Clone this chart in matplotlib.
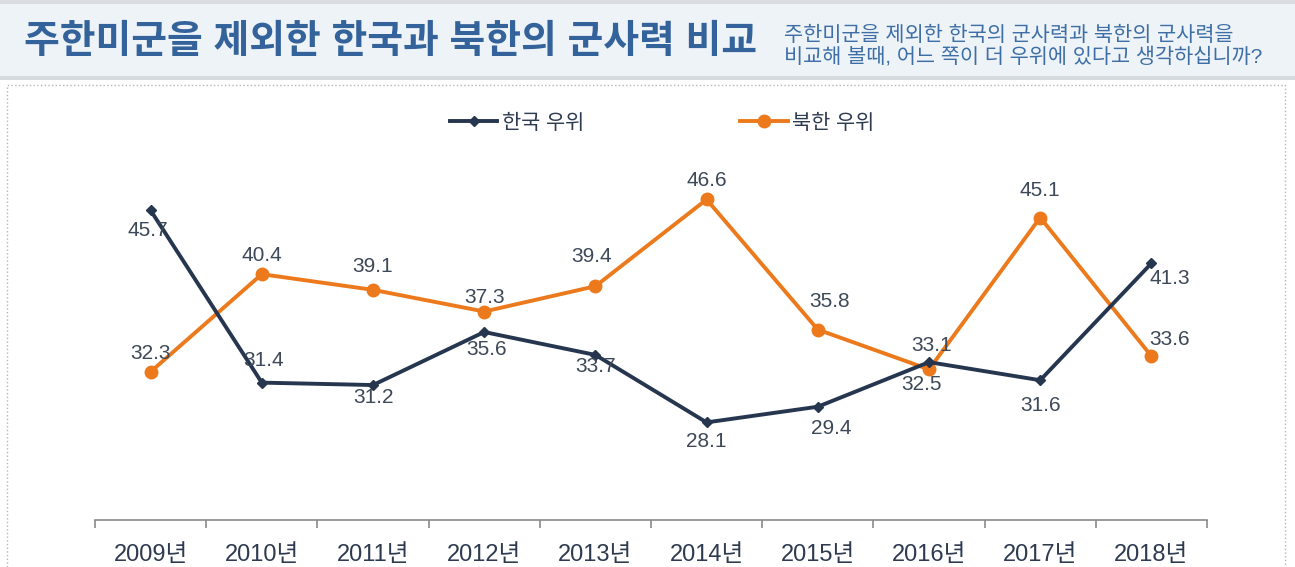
import numpy as np
import matplotlib.pyplot as plt
from matplotlib.patches import Rectangle

plt.rcParams['font.family'] = ['Liberation Sans', 'Noto Sans CJK KR', 'DejaVu Sans']

# data
years = ['2009년', '2010년', '2011년', '2012년', '2013년',
         '2014년', '2015년', '2016년', '2017년', '2018년']
korea = [45.7, 31.4, 31.2, 35.6, 33.7, 28.1, 29.4, 33.1, 31.6, 41.3]
north = [32.3, 40.4, 39.1, 37.3, 39.4, 46.6, 35.8, 32.5, 45.1, 33.6]
series_names = ['한국 우위', '북한 우위']

title = '주한미군을 제외한 한국과 북한의 군사력 비교'
subtitle = ['주한미군을 제외한 한국의 군사력과 북한의 군사력을',
            '비교해 볼때, 어느 쪽이 더 우위에 있다고 생각하십니까?']

# label offsets in pixels (dx, dy), dy positive = up
korea_off = [(-3, -20), (2, 22), (0, -12), (2, -17), (0, -12),
             (0, -19), (13, -22), (3, 17), (0, -25), (18, -15)]
north_off = [(0, 18), (0, 19), (0, 23), (0, 14), (-4, 30),
             (0, 19), (12, 28), (-7, -15), (0, 27), (18, 17)]

navy = '#26364f'
orange = '#ec7a1c'
label_col = '#3d4858'

W, H = 1295, 567
fig = plt.figure(figsize=(W / 100, H / 100), dpi=100)

# header band
fig.patches.append(Rectangle((0, 1 - 77 / H), 1, 77 / H, transform=fig.transFigure,
                             facecolor='#eef3f8', edgecolor='none', zorder=0))
fig.patches.append(Rectangle((0, 1 - 4 / H), 1, 4 / H, transform=fig.transFigure,
                             facecolor='#d9dde2', edgecolor='none', zorder=0))
fig.patches.append(Rectangle((0, 1 - 80 / H), 1, 4 / H, transform=fig.transFigure,
                             facecolor='#d6dbe0', edgecolor='none', zorder=0))
# dotted frame
fig.patches.append(Rectangle((7 / W, -0.01), 1278 / W, 1 - 85 / H + 0.01,
                             transform=fig.transFigure, facecolor='none',
                             edgecolor='#b5b5b5', linestyle=':', linewidth=1.0, zorder=0))

fig.text(24 / W, 1 - 43 / H, title, fontsize=28, fontweight='bold',
         color='#33639a', va='center', ha='left')
fig.text(784 / W, 1 - 35 / H, subtitle[0], fontsize=15, color='#3d6fa6',
         va='center', ha='left')
fig.text(784 / W, 1 - 57 / H, subtitle[1], fontsize=15, color='#3d6fa6',
         va='center', ha='left')

ax = fig.add_axes([95 / W, 1 - 520 / H, 1112 / W, 361.5 / H])
x = np.arange(len(years))

ax.plot(x, korea, color=navy, lw=2.8, marker='D', ms=5.5, label=series_names[0], zorder=3)
ax.plot(x, north, color=orange, lw=2.8, marker='o', ms=9, label=series_names[1], zorder=2)

for xi, v, (dx, dy) in zip(x, korea, korea_off):
    ax.annotate(f'{v:.1f}', (xi, v), xytext=(dx, dy), textcoords='offset pixels',
                ha='center', va='center', fontsize=15, color=label_col, zorder=5)
for xi, v, (dx, dy) in zip(x, north, north_off):
    ax.annotate(f'{v:.1f}', (xi, v), xytext=(dx, dy), textcoords='offset pixels',
                ha='center', va='center', fontsize=15, color=label_col, zorder=5)

ax.set_xlim(-0.5, len(years) - 0.5)
ax.set_ylim(20, 50)
for s in ['top', 'right', 'left']:
    ax.spines[s].set_visible(False)
ax.spines['bottom'].set_color('#8a8a8a')
ax.spines['bottom'].set_linewidth(1.2)
ax.set_yticks([])
ax.set_xticks(np.arange(-0.5, len(years), 1))
ax.set_xticklabels([])
ax.tick_params(axis='x', which='major', length=6, color='#8a8a8a', width=1.2)
ax.set_xticks(x, minor=True)
ax.set_xticklabels(years, minor=True, fontsize=17, color='#2e3a50')
ax.tick_params(axis='x', which='minor', length=0, pad=17)

fig.legend(loc='center', bbox_to_anchor=(662 / W, 1 - 123 / H), ncol=2, frameon=False,
           fontsize=15, handlelength=2.3, columnspacing=7.5, handletextpad=0.2,
           labelcolor='#2e3a50')

fig.savefig('out.png', dpi=100)
